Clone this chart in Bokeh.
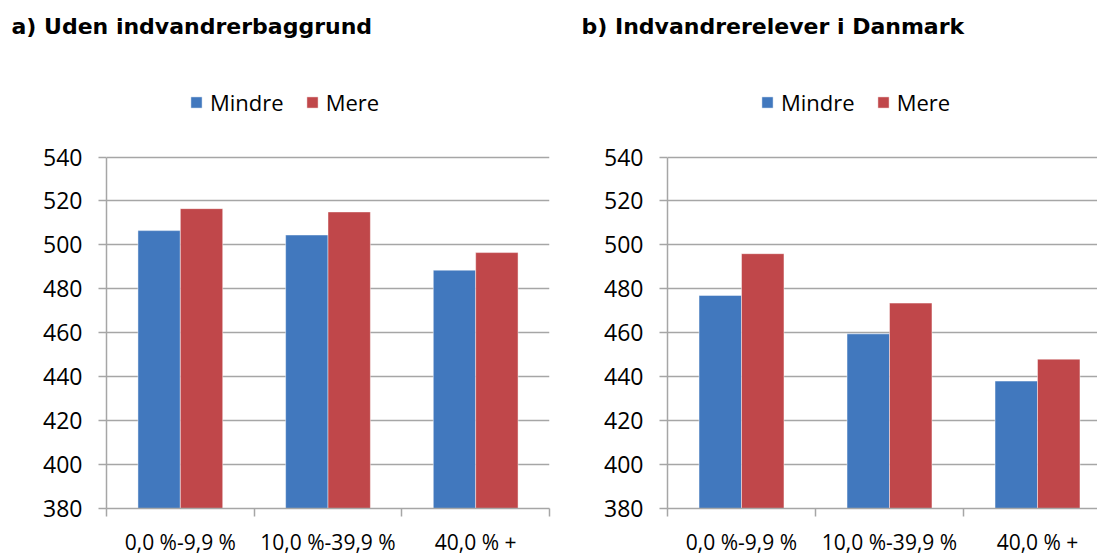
from bokeh.plotting import figure
from bokeh.models import (Range1d, FixedTicker, Legend, LegendItem,
                          LinearAxis, Grid)
from bokeh.layouts import row
from bokeh.embed import file_html
from bokeh.resources import INLINE

# ---- data ----
categories = ["0,0 %-9,9 %", "10,0 %-39,9 %", "40,0 % +"]
series_names = ["Mindre", "Mere"]
a_mindre = [506.5, 504.5, 488.5]
a_mere = [516.5, 515.0, 496.5]
b_mindre = [477.0, 459.5, 438.0]
b_mere = [496.0, 473.5, 448.0]
y_ticks = [380, 400, 420, 440, 460, 480, 500, 520, 540]
titles = ["a) Uden indvandrerbaggrund", "b) Indvandrerelever i Danmark"]

# ---- style / layout ----
colors = ["#4178BE", "#C0474A"]
grid_color = "#A6A6A6"
FONT = "Open Sans"
BAR_W = 0.287
H = 558
PX_PER_UNIT = 353 / 160       # plot scale: 160 score points over 353 px
FRAME_TOP_GUESS = 48           # title panel height
GRID_TOP_PX = 156              # where the 540 line sits
BOTTOM_BORDER = 49


def make_chart(title, mindre, mere, width, b_left, b_right, x_end,
               legend_x, title_offset):
    centers = [i + 1 for i in range(len(categories))]
    bounds = [i + 0.5 for i in range(len(categories) + 1)]
    y_end = y_ticks[-1] + (GRID_TOP_PX - FRAME_TOP_GUESS) / PX_PER_UNIT
    p = figure(width=width, height=H, output_backend="svg",
               toolbar_location=None, title=title, title_location="above",
               x_range=Range1d(0.5, x_end), y_range=Range1d(y_ticks[0], y_end),
               x_axis_type=None, y_axis_type=None,
               min_border_left=b_left, min_border_right=b_right,
               min_border_top=0, min_border_bottom=BOTTOM_BORDER)
    p.outline_line_color = None
    p.background_fill_color = "white"
    p.border_fill_color = "white"

    p.title.align = "left"
    p.title.vertical_align = "bottom"
    p.title.offset = title_offset
    p.title.standoff = 22
    p.title.text_font = "DejaVu Sans"
    p.title.text_font_style = "bold"
    p.title.text_font_size = "22px"
    p.title.text_color = "#000000"

    p.add_layout(Grid(dimension=1, ticker=FixedTicker(ticks=y_ticks),
                      grid_line_color=grid_color, grid_line_width=1.5))

    yaxis = LinearAxis(ticker=FixedTicker(ticks=y_ticks),
                       bounds=(y_ticks[0], y_ticks[-1]),
                       axis_line_color=grid_color, axis_line_width=1.5,
                       major_tick_line_color=grid_color, major_tick_line_width=1.5,
                       major_tick_out=8, major_tick_in=0,
                       minor_tick_out=0, minor_tick_in=0,
                       major_label_standoff=16,
                       major_label_text_font=FONT,
                       major_label_text_font_size="23px",
                       major_label_text_color="#000000")
    p.add_layout(yaxis, "left")

    xaxis = LinearAxis(ticker=FixedTicker(ticks=centers, minor_ticks=bounds),
                       axis_line_color=grid_color, axis_line_width=1.5,
                       major_tick_out=0, major_tick_in=0,
                       minor_tick_line_color=grid_color, minor_tick_line_width=1.5,
                       minor_tick_out=8, minor_tick_in=0,
                       major_label_standoff=11,
                       major_label_overrides={c: lab for c, lab in zip(centers, categories)},
                       major_label_text_font=FONT,
                       major_label_text_font_size="21px",
                       major_label_text_color="#000000")
    p.add_layout(xaxis, "below")

    r1 = p.vbar(x=[c - BAR_W / 2 for c in centers], top=mindre, bottom=y_ticks[0],
                width=BAR_W, fill_color=colors[0], line_color="#FFFFFF",
                line_alpha=0.45, line_width=1)
    r2 = p.vbar(x=[c + BAR_W / 2 for c in centers], top=mere, bottom=y_ticks[0],
                width=BAR_W, fill_color=colors[1], line_color="#FFFFFF",
                line_alpha=0.45, line_width=1)

    legend = Legend(items=[LegendItem(label=series_names[0], renderers=[r1]),
                           LegendItem(label=series_names[1], renderers=[r2])],
                    orientation="horizontal", location=(legend_x, 391),
                    glyph_width=14, glyph_height=14, label_standoff=7,
                    spacing=21, padding=0, margin=0,
                    border_line_color=None, background_fill_alpha=0,
                    label_text_font=FONT, label_text_font_size="22px",
                    label_text_color="#000000")
    p.add_layout(legend, "center")
    return p


left = make_chart(titles[0], a_mindre, a_mere, width=560, b_left=106, b_right=11,
                  x_end=3.5, legend_x=83, title_offset=-95)
right = make_chart(titles[1], b_mindre, b_mere, width=537, b_left=107, b_right=0,
                   x_end=0.5 + 430 / 148, legend_x=93, title_offset=-86)

layout = row(left, right)
open("out.html", "w").write(file_html(layout, INLINE))
